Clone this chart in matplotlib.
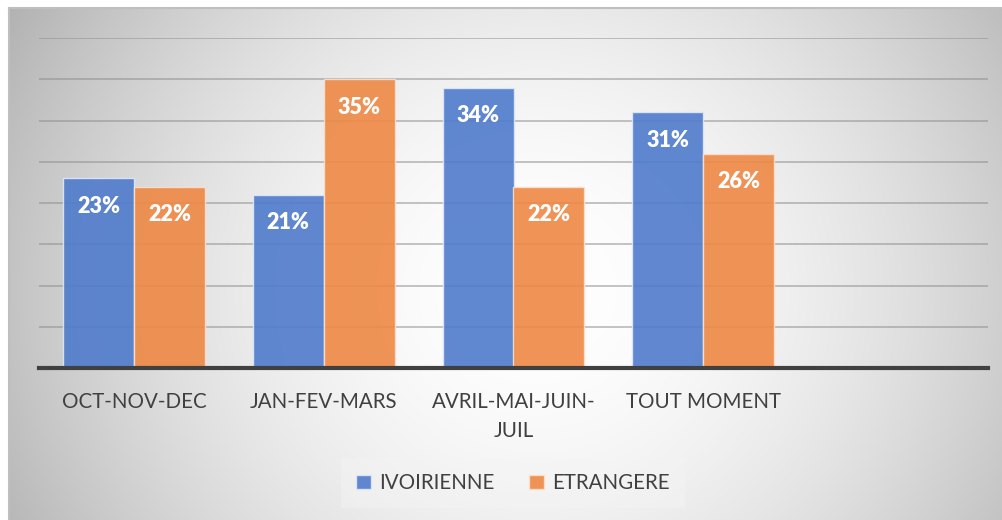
import numpy as np
import matplotlib
matplotlib.use("Agg")
import matplotlib.pyplot as plt

categories = ["OCT-NOV-DEC", "JAN-FEV-MARS", "AVRIL-MAI-JUIN-\nJUIL", "TOUT MOMENT", ""]
ivoirienne = [23, 21, 34, 31, None]
etrangere = [22, 35, 22, 26, None]
series_names = ["IVOIRIENNE", "ETRANGERE"]
yticks = [0, 5, 10, 15, 20, 25, 30, 35, 40]

W, H = 1003, 520
fig = plt.figure(figsize=(W / 100, H / 100), dpi=100)
fig.patch.set_facecolor("white")
FONT = ["Lato", "DejaVu Sans"]

# background radial gradient frame
bg = fig.add_axes([9 / W, 0, 1 - 9 / W, (H - 8) / H], zorder=0)
ny, nx = 256, 512
yy, xx = np.mgrid[0:ny, 0:nx]
cx, cy = 0.53 * nx, 0.55 * ny
r = np.sqrt(((xx - cx) / (nx * 0.55)) ** 2 + ((yy - cy) / (ny * 1.0)) ** 2)
v = 1.0 - 0.25 * np.clip(r, 0, 1.3) ** 1.8
img = np.dstack([v, v, v])
bg.imshow(img, aspect="auto", extent=[0, 1, 0, 1], origin="upper", interpolation="bilinear")
bg.set_xlim(0, 1)
bg.set_ylim(0, 1)
bg.axis("off")
fig.add_artist(plt.Line2D([9 / W, 1], [(H - 8) / H, (H - 8) / H], color="#bfbfbf", lw=1.5, transform=fig.transFigure))
fig.add_artist(plt.Line2D([9 / W, 9 / W], [0, (H - 8) / H], color="#bfbfbf", lw=1.5, transform=fig.transFigure))

ax = fig.add_axes([39 / W, (H - 368) / H, (988 - 39) / W, (368 - 38) / H], zorder=1)
ax.patch.set_alpha(0)

x = np.arange(len(categories))
bw = 0.374
blue = "#4f7bcc"
orange = "#ee8844"
vals_b = [np.nan if v_ is None else v_ for v_ in ivoirienne]
vals_o = [np.nan if v_ is None else v_ for v_ in etrangere]
b1 = ax.bar(x - bw / 2, vals_b, bw, color=blue, alpha=0.9, edgecolor="#dfe8f7", linewidth=1.0, zorder=3, label=series_names[0])
b2 = ax.bar(x + bw / 2, vals_o, bw, color=orange, alpha=0.9, edgecolor="#fbe0cc", linewidth=1.0, zorder=3, label=series_names[1])

for bars, vals in ((b1, vals_b), (b2, vals_o)):
    for rect, val in zip(bars, vals):
        if np.isnan(val):
            continue
        ax.annotate(f"{val:.0f}%", (rect.get_x() + rect.get_width() / 2, val), xytext=(0, -28),
                    textcoords="offset pixels", ha="center", va="center",
                    color="white", fontsize=15.5, fontweight="heavy", family=FONT, zorder=5)

ax.set_xlim(-0.5, len(categories) - 0.5)
ax.set_ylim(0, 40)
ax.set_yticks(yticks)
ax.set_yticklabels([])
ax.yaxis.grid(True, color="#8c8c8c", linewidth=1.3, alpha=0.55, zorder=1)
ax.set_axisbelow(True)
for s in ["top", "right", "left"]:
    ax.spines[s].set_visible(False)
ax.spines["bottom"].set_color("#404040")
ax.spines["bottom"].set_linewidth(3)
ax.spines["bottom"].set_zorder(6)
ax.tick_params(axis="both", length=0)
ax.set_xticks(x)
ax.set_xticklabels(categories, fontsize=14.8, color="#404040", family=FONT, linespacing=1.6, va="top")
ax.tick_params(axis="x", pad=17)

leg = fig.legend(handles=[b1, b2], labels=series_names, loc="center", bbox_to_anchor=(513 / W, (H - 483) / H),
                 ncol=2, frameon=True, prop={"family": FONT, "size": 14.8},
                 handlelength=0.7, handleheight=0.7, handletextpad=0.4, columnspacing=1.7,
                 borderpad=0.75, fancybox=False)
leg.get_frame().set_facecolor("#f4f4f4")
leg.get_frame().set_alpha(0.45)
leg.get_frame().set_edgecolor("none")
for t in leg.get_texts():
    t.set_color("#404040")

fig.savefig("out.png", dpi=100)
